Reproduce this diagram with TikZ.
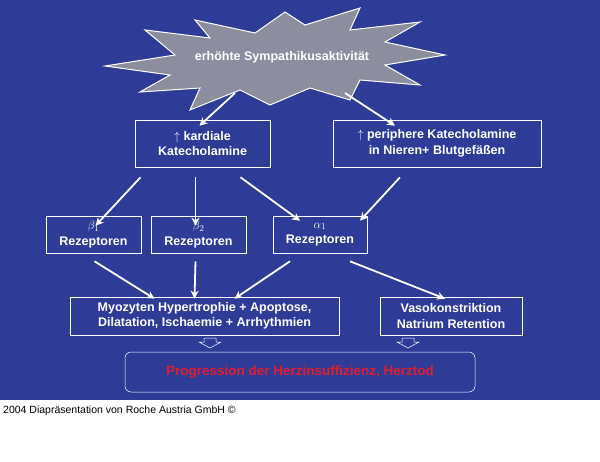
\documentclass[tikz,border=0pt]{standalone}
\usepackage{fontspec}
\setmainfont{Liberation Sans}
\usetikzlibrary{arrows.meta}
\definecolor{bg}{RGB}{46,60,152}
\definecolor{star}{RGB}{140,142,160}
\definecolor{prog}{RGB}{225,30,45}
\begin{document}
\begin{tikzpicture}[x=1pt,y=-1pt,
  box/.style={draw=white,line width=0.6pt,text=white,font=\bfseries\fontsize{12.5}{15.5}\selectfont,align=center,inner sep=0pt},
  arr/.style={draw=white,line width=1.8pt,-{Stealth[length=8pt,width=8pt]}},
  hollow/.style={draw=white,line width=0.5pt}]
\useasboundingbox (0,0) rectangle (600,461);
\fill[white] (0,0) rectangle (600,461);
\fill[bg] (0,0) rectangle (600,400);
\draw[white,line width=1pt,fill=star] (105,66)--(175,55)--(145,30)--(210,38)--(195,20)--(255,33)--(285,12)--(305,25)--(360,8)--(350,30)--(420,22)--(385,42)--(445,55)--(385,65)--(420,85)--(360,80)--(350,100)--(310,88)--(270,105)--(240,90)--(190,110)--(200,88)--(140,92)--(170,75)--cycle;
\node[text=white,font=\bfseries\fontsize{12.5}{15}\selectfont] (st) at (282,57) {erhöhte Sympathikusaktivität};
\coordinate (s1) at (235,93); \coordinate (s2) at (345,93);
\node[box,minimum width=135pt,minimum height=47pt] (kard) at (202.5,143.5) {$\uparrow$ kardiale\\Katecholamine};
\node[box,minimum width=208pt,minimum height=47pt] (peri) at (437,143.5) {$\uparrow$ periphere Katecholamine\\in Nieren+ Blutgefäßen};
\node[box,minimum width=95pt,minimum height=37pt] (b1) at (93.5,234.5) {$\beta_1$\\Rezeptoren};
\node[box,minimum width=95pt,minimum height=37pt] (b2) at (198.5,234.5) {$\beta_2$\\Rezeptoren};
\node[box,minimum width=94pt,minimum height=37pt] (a1) at (320,234.5) {$\alpha_1$\\Rezeptoren};
\node[box,minimum width=269pt,minimum height=38pt] (myo) at (204.5,316) {Myozyten Hypertrophie + Apoptose,\\Dilatation, Ischaemie + Arrhythmien};
\node[box,minimum width=142pt,minimum height=38pt] (vaso) at (451,316) {Vasokonstriktion\\Natrium Retention};
\node[draw=white,line width=0.5pt,rounded corners=6pt,minimum width=350pt,minimum height=40pt,text=prog,font=\bfseries\fontsize{13.5}{16}\selectfont] (pr) at (300,372) {Progression der Herzinsuffizienz, Herztod};
\draw[arr] (s1) -- ([xshift=-3pt,yshift=-6pt]kard.north);
\draw[arr] (s2) -- ([xshift=-42pt,yshift=-6pt]peri.north);
\draw[arr] ([xshift=-62pt,yshift=-10pt]kard.south) -- ([xshift=2pt,yshift=-10pt]b1.north);
\draw[arr] ([xshift=-7pt,yshift=-10pt]kard.south) -- ([xshift=-3pt,yshift=-10pt]b2.north);
\draw[arr] ([xshift=38pt,yshift=-10pt]kard.south) -- ([xshift=-20pt,yshift=-5pt]a1.north);
\draw[arr] ([xshift=-37pt,yshift=-10pt]peri.south) -- ([xshift=40pt,yshift=-5pt]a1.north);
\draw[arr] ([xshift=1pt,yshift=-8pt]b1.south) -- ([xshift=-50pt,yshift=-2pt]myo.north);
\draw[arr] ([xshift=-3pt,yshift=-8pt]b2.south) -- ([xshift=-10pt,yshift=-2pt]myo.north);
\draw[arr] ([xshift=-30pt,yshift=-8pt]a1.south) -- ([xshift=30pt,yshift=-2pt]myo.north);
\draw[arr] ([xshift=30pt,yshift=-8pt]a1.south) -- ([xshift=-6pt,yshift=-2pt]vaso.north);
\draw[hollow] (204,338)--(216,338)--(216,342)--(221,342)--(210,348)--(199,342)--(204,342)--cycle;
\draw[hollow] (402,338)--(414,338)--(414,342)--(419,342)--(408,348)--(397,342)--(402,342)--cycle;
\node[anchor=west,font=\fontsize{10.5}{12}\selectfont,inner sep=0pt] (cap) at (3,411) {2004 Diapräsentation von Roche Austria GmbH ©};
\end{tikzpicture}
\end{document}
